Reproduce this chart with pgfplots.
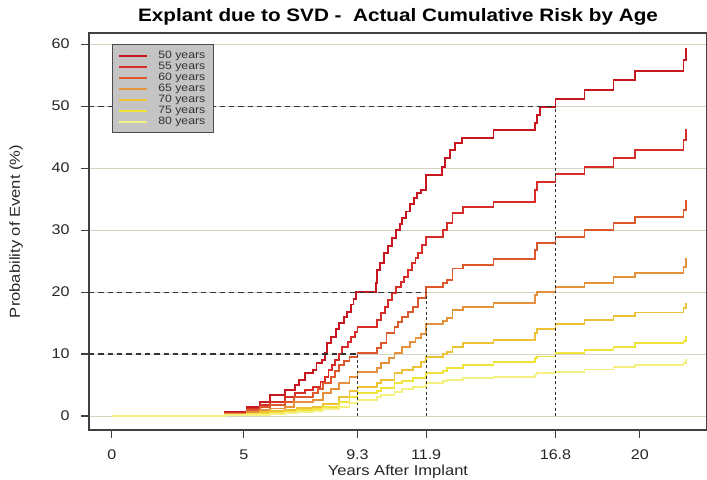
\documentclass[border=0pt]{standalone}
\usepackage{fontspec}
\setmainfont[FakeStretch=1.15]{Liberation Sans}
\usepackage{pgfplots}
\pgfplotsset{compat=1.18}
\definecolor{c50}{RGB}{200,22,32}
\definecolor{c55}{RGB}{215,45,40}
\definecolor{c60}{RGB}{222,88,45}
\definecolor{c65}{RGB}{230,145,60}
\definecolor{c70}{RGB}{236,195,55}
\definecolor{c75}{RGB}{240,228,60}
\definecolor{c80}{RGB}{245,240,130}
\definecolor{gridc}{RGB}{215,212,195}
\definecolor{legfill}{RGB}{196,196,196}
\begin{document}
\begin{tikzpicture}
\begin{axis}[
 scale only axis, width=463.5pt, height=297.75pt,
 xmin=-0.87, xmax=22.54, ymin=-2.26, ymax=61.8,
 axis line style={black!75, line width=0.8pt},
 tick align=outside, tick pos=left,
 major tick length=6pt,
 tick style={black!75, line width=0.8pt},
 xtick={0,5,9.3,11.9,16.8,20}, xticklabels={0,5,9.3,11.9,16.8,20},
 ytick={0,10,20,30,40,50,60}, yticklabels={0,10,20,30,40,50,60},
 ymajorgrids, grid style={gridc, line width=0.6pt},
 /pgf/number format/assume math mode=true,
 tick label style={font=\fontsize{10.5}{12}\selectfont, text=black!85},
 xticklabel style={yshift=-5pt},
 yticklabel style={xshift=-5pt},
 title={Explant due to SVD -\ \ Actual Cumulative Risk by Age},
 every axis title/.style={font=\bfseries\fontsize{13.5}{16}\selectfont, at={(axis description cs:0.5,1.0403)}, anchor=center},
 xlabel={Years After Implant}, ylabel={Probability of Event (\%)},
 label style={font=\fontsize{10.8}{12}\selectfont, text=black!85},
 xlabel style={at={(axis description cs:0.5,-0.106)}, anchor=center},
 ylabel style={at={(axis description cs:-0.118,0.5)}, anchor=center},
 legend style={at={(0.037,0.972)}, anchor=north west, fill=legfill, draw=black!70, line width=0.6pt,
   font=\fontsize{8}{8}\selectfont, text=black!80, inner xsep=4.5pt, inner ysep=3.5pt, row sep=-1.25pt,
   nodes={inner sep=1.5pt, text height=5.5pt, text depth=1pt},
   /tikz/every odd column/.append style={column sep=6pt}},
 legend cell align=left,
 legend image code/.code={\draw[#1, line width=1.5pt] (0pt,0pt) -- (21pt,0pt);},
]
\addplot[c50, line width=1.4pt, const plot mark left] coordinates {(0,0)(4.28,0.6)(5.1,1.5)(5.6,2.3)(6.0,3.4)(6.55,4.2)(6.93,5.0)(7.1,5.8)(7.3,6.9)(7.6,7.4)(7.75,8.5)(7.95,9.0)(8.07,10.1)(8.13,11.8)(8.3,12.7)(8.5,14.0)(8.6,15.0)(8.8,16.0)(8.9,16.8)(9.05,18.0)(9.15,18.9)(9.25,20.0)(10.0,21.5)(10.05,23.5)(10.15,24.7)(10.3,26.3)(10.45,27.5)(10.6,28.7)(10.75,30.0)(10.9,31.0)(11.0,32.0)(11.15,33.0)(11.3,34.2)(11.45,35.2)(11.55,36.0)(11.7,36.5)(11.9,38.9)(12.5,40.2)(12.6,41.6)(12.8,42.9)(13.0,44.0)(13.25,44.8)(14.45,46.1)(16.03,47.3)(16.1,48.5)(16.2,49.8)(16.8,51.2)(17.9,52.6)(19.0,54.2)(19.8,55.6)(21.65,57.4)(21.75,59.3)(21.8,59.3)};
\addlegendentry{50 years}
\addplot[c55, line width=1.4pt, const plot mark left] coordinates {(0,0)(4.28,0.5)(5.1,1.2)(5.6,1.8)(6.0,2.3)(6.55,3.1)(6.93,3.7)(7.3,4.2)(7.6,4.7)(7.9,5.5)(8.07,6.3)(8.2,7.4)(8.35,8.2)(8.45,9.0)(8.6,10.0)(8.7,11.1)(8.95,12.0)(9.05,12.7)(9.2,13.6)(9.3,14.4)(10.05,15.5)(10.2,16.6)(10.35,17.6)(10.45,18.7)(10.6,19.8)(10.75,20.8)(10.95,21.6)(11.05,22.4)(11.2,23.5)(11.35,24.7)(11.5,25.5)(11.6,26.3)(11.75,27.6)(11.9,28.9)(12.55,30.0)(12.7,31.1)(12.9,32.7)(13.3,33.7)(14.45,34.5)(16.03,36.4)(16.1,37.7)(16.8,39.0)(17.9,40.2)(19.0,41.6)(19.8,42.9)(21.65,44.5)(21.75,46.1)(21.8,46.1)};
\addlegendentry{55 years}
\addplot[c60, line width=1.4pt, const plot mark left] coordinates {(0,0)(4.28,0.4)(5.1,0.9)(5.6,1.5)(6.0,1.8)(6.55,2.3)(6.9,3.1)(7.6,3.7)(7.8,4.4)(8.0,5.3)(8.3,6.3)(8.45,7.2)(8.6,8.2)(8.8,8.9)(9.0,9.5)(9.3,10.1)(10.05,11.0)(10.2,11.8)(10.4,13.4)(10.7,14.4)(10.85,15.2)(11.0,16.0)(11.2,16.8)(11.4,17.6)(11.6,19.0)(11.9,20.8)(12.55,21.5)(12.7,21.9)(12.9,23.8)(13.3,24.4)(14.45,25.3)(16.03,26.8)(16.1,27.9)(16.8,28.9)(17.9,30.0)(19.0,31.1)(19.8,32.1)(21.65,33.2)(21.75,34.7)(21.8,34.7)};
\addlegendentry{60 years}
\addplot[c65, line width=1.4pt, const plot mark left] coordinates {(0,0)(4.28,0.3)(5.1,0.6)(5.6,0.9)(6.0,1.2)(6.55,1.5)(6.9,2.3)(7.6,2.6)(8.0,3.7)(8.3,4.3)(8.6,5.3)(9.0,6.3)(9.3,7.1)(10.05,7.8)(10.2,8.5)(10.5,9.3)(10.7,10.1)(11.0,11.1)(11.3,12.0)(11.5,12.6)(11.7,13.3)(11.9,14.8)(12.55,15.3)(12.7,15.8)(12.9,17.1)(13.3,17.6)(14.45,18.2)(16.03,19.5)(16.1,20.0)(16.8,20.8)(17.9,21.5)(19.0,22.4)(19.8,23.1)(21.65,24.1)(21.75,25.4)(21.8,25.4)};
\addlegendentry{65 years}
\addplot[c70, line width=1.4pt, const plot mark left] coordinates {(0,0)(4.28,0.2)(5.1,0.4)(5.6,0.6)(6.0,0.8)(6.55,1.0)(7.0,1.3)(7.6,1.5)(8.0,2.0)(8.6,3.1)(9.0,4.0)(9.3,4.7)(10.05,5.3)(10.2,5.8)(10.7,6.9)(11.0,7.4)(11.4,7.9)(11.7,8.7)(11.9,9.5)(12.55,10.0)(12.7,10.3)(12.9,11.1)(13.3,11.8)(14.45,12.3)(16.03,13.4)(16.1,14.0)(16.8,14.8)(17.9,15.5)(19.0,16.1)(19.8,16.7)(21.65,17.4)(21.75,18.1)(21.8,18.1)};
\addlegendentry{70 years}
\addplot[c75, line width=1.4pt, const plot mark left] coordinates {(0,0)(4.28,0.15)(5.1,0.3)(6.0,0.5)(6.55,0.7)(7.0,0.9)(7.6,1.1)(8.0,1.5)(8.6,2.3)(9.0,3.0)(9.3,3.7)(10.05,4.1)(10.2,4.5)(10.7,5.3)(11.0,5.7)(11.4,6.1)(11.9,6.9)(12.55,7.3)(12.7,7.7)(13.3,8.2)(14.45,8.7)(16.03,9.3)(16.1,9.6)(16.8,10.1)(17.9,10.6)(19.0,11.1)(19.8,11.8)(21.65,12.1)(21.75,12.7)(21.8,12.7)};
\addlegendentry{75 years}
\addplot[c80, line width=1.4pt, const plot mark left] coordinates {(0,0)(4.28,0.1)(5.1,0.2)(6.0,0.35)(6.55,0.5)(7.0,0.65)(7.6,0.8)(8.0,1.1)(8.6,1.5)(9.0,2.1)(9.3,2.6)(10.05,3.0)(10.2,3.4)(10.7,3.9)(11.0,4.3)(11.4,4.7)(11.9,5.3)(12.55,5.6)(12.7,5.8)(13.3,6.1)(14.45,6.3)(16.03,6.7)(16.1,6.9)(16.8,7.1)(17.9,7.5)(19.0,7.9)(19.8,8.2)(21.65,8.6)(21.75,9.0)(21.8,9.0)};
\addlegendentry{80 years}
% reference lines
\addplot[forget plot, black!80, line width=0.8pt, dash pattern=on 4pt off 3pt] coordinates {(-0.87,10) (9.3,10)};
\addplot[forget plot, black!80, line width=0.8pt, dash pattern=on 4pt off 3pt] coordinates {(-0.87,20) (11.9,20)};
\addplot[forget plot, black!80, line width=0.8pt, dash pattern=on 4pt off 3pt] coordinates {(-0.87,50) (16.8,50)};
\addplot[forget plot, black!80, line width=0.9pt, dash pattern=on 2pt off 2pt] coordinates {(9.3,0) (9.3,10)};
\addplot[forget plot, black!80, line width=0.9pt, dash pattern=on 2pt off 2pt] coordinates {(11.9,0) (11.9,20)};
\addplot[forget plot, black!80, line width=0.9pt, dash pattern=on 2pt off 2pt] coordinates {(16.8,0) (16.8,50)};
\end{axis}
\pgfresetboundingbox
\path (-66.75pt,-36.75pt) rectangle (463.5pt,322.5pt);
\end{tikzpicture}
\end{document}
